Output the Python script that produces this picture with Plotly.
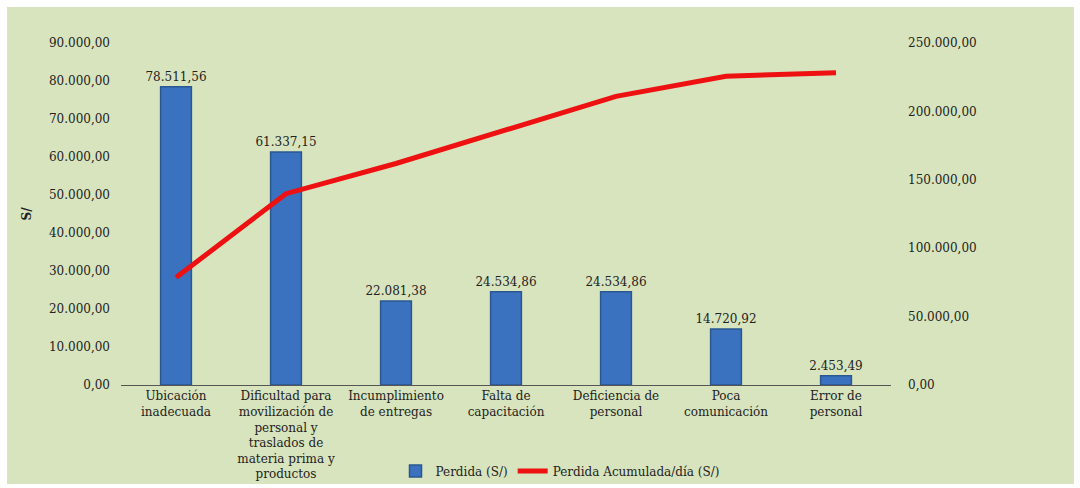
import plotly.graph_objects as go

categories = [
    "Ubicación<br>inadecuada",
    "Dificultad para<br>movilización de<br>personal y<br>traslados de<br>materia prima y<br>productos",
    "Incumplimiento<br>de entregas",
    "Falta de<br>capacitación",
    "Deficiencia de<br>personal",
    "Poca<br>comunicación",
    "Error de<br>personal",
]
perdida = [78511.56, 61337.15, 22081.38, 24534.86, 24534.86, 14720.92, 2453.49]
perdida_labels = ["78.511,56", "61.337,15", "22.081,38", "24.534,86", "24.534,86", "14.720,92", "2.453,49"]
acumulada = [78511.56, 139848.71, 161930.09, 186464.95, 210999.81, 225720.73, 228174.22]

left_ticks = [0, 10000, 20000, 30000, 40000, 50000, 60000, 70000, 80000, 90000]
left_ticktext = ["0,00", "10.000,00", "20.000,00", "30.000,00", "40.000,00", "50.000,00",
                 "60.000,00", "70.000,00", "80.000,00", "90.000,00"]
right_ticks = [0, 50000, 100000, 150000, 200000, 250000]
right_ticktext = ["0,00", "50.000,00", "100.000,00", "150.000,00", "200.000,00", "250.000,00"]

FONT = "DejaVu Serif"
FS = 12
BG = "#D8E4BD"
TXT = "#222222"

W, H = 1080, 488
ML, MR, MT, MB = 121, 189, 43, 103
PW, PH = W - ML - MR, H - MT - MB

def px_x(p):
    return (p - ML) / PW

def px_y(p):
    return (H - MB - p) / PH

fig = go.Figure()
fig.add_trace(go.Bar(
    x=categories, y=perdida, name="Perdida (S/)",
    marker=dict(color="#3B72C0", line=dict(color="#2A5790", width=1.5)),
    width=0.28,
    text=perdida_labels, textposition="outside", constraintext="none",
    textfont=dict(family=FONT, size=FS, color=TXT),
    cliponaxis=False,
))
fig.add_trace(go.Scatter(
    x=categories, y=acumulada, name="Perdida Acumulada/día (S/)",
    mode="lines", line=dict(color="#EE1111", width=5),
    yaxis="y2",
))

fig.add_shape(type="rect", xref="paper", yref="paper",
              x0=px_x(7), x1=px_x(1074), y0=px_y(484), y1=px_y(7),
              fillcolor=BG, line=dict(width=0), layer="below")

fig.update_layout(
    width=W, height=H,
    margin=dict(l=ML, r=MR, t=MT, b=MB, autoexpand=False),
    paper_bgcolor="white", plot_bgcolor="rgba(0,0,0,0)",
    font=dict(family=FONT, size=FS, color=TXT),
    xaxis=dict(
        showline=True, linecolor="#555555", linewidth=1, automargin=False,
        showgrid=False, ticks="", tickfont=dict(family=FONT, size=FS, color=TXT),
        tickangle=0,
    ),
    yaxis=dict(
        range=[0, 90000], tickvals=left_ticks, ticktext=left_ticktext, automargin=False,
        showgrid=False, showline=False, zeroline=False, ticks="",
        ticklabelstandoff=10, tickfont=dict(family=FONT, size=FS, color=TXT),
        title=dict(text="<b>S/</b>", font=dict(family=FONT, size=FS, color=TXT), standoff=14),
    ),
    yaxis2=dict(
        range=[0, 250000], tickvals=right_ticks, ticktext=right_ticktext, automargin=False,
        overlaying="y", side="right",
        showgrid=False, showline=False, zeroline=False, ticks="",
        ticklabelstandoff=16, tickfont=dict(family=FONT, size=FS, color=TXT),
    ),
    legend=dict(
        orientation="h", x=px_x(560), xanchor="center", y=px_y(471), yanchor="middle",
        font=dict(family=FONT, size=FS, color=TXT), bgcolor="rgba(0,0,0,0)",
        itemwidth=30,
    ),
)

fig.write_html("out.html")
